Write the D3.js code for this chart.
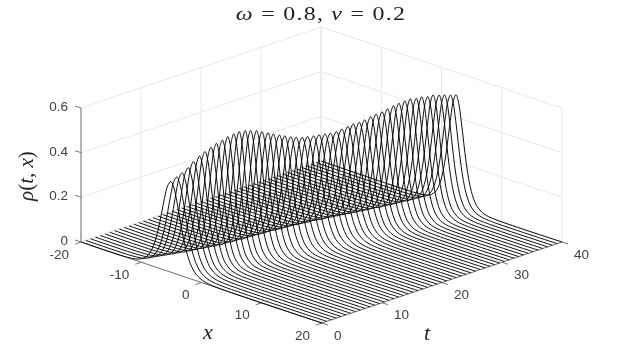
<!DOCTYPE html>
<html>
<head>
<meta charset="utf-8">
<script src="https://cdn.jsdelivr.net/npm/d3@7"></script>
<style>
	html, body { margin: 0; padding: 0; background: #fff; }
	svg { display: block; filter: blur(0.3px); }
</style>
</head>
<body>
<script>
var xTicks = [-20, -10, 0, 10, 20];
var tTicks = [0, 10, 20, 30, 40];
var zTicks = [0, 0.2, 0.4, 0.6];
var zLabels = ["0", "0.2", "0.4", "0.6"];

// one curve per time value
var tValues = [0, 0.8, 1.6, 2.4, 3.2, 4, 4.8, 5.6, 6.4, 7.2, 8, 8.8, 9.6, 10.4, 11.2, 12, 12.8, 13.6, 14.4, 15.2,
	16, 16.8, 17.6, 18.4, 19.2, 20, 20.8, 21.6, 22.4, 23.2, 24, 24.8, 25.6, 26.4, 27.2, 28, 28.8, 29.6, 30.4, 31.2,
	32, 32.8, 33.6, 34.4, 35.2, 36, 36.8, 37.6, 38.4, 39.2, 40];
// where the ridge crest sits on each curve
var crestX = [-5.1, -4.9, -4.8, -4.6, -4.5, -4.3, -4.2, -4, -3.9, -3.7, -3.6, -3.4, -3.3, -3.1, -3, -2.8, -2.7, -2.5, -2.4, -2.2,
	-2.1, -1.9, -1.8, -1.6, -1.5, -1.3, -1.2, -1, -0.9, -0.7, -0.6, -0.4, -0.3, -0.1, 0, 0.2, 0.3, 0.5, 0.6, 0.8,
	0.9, 1.1, 1.2, 1.4, 1.5, 1.7, 1.8, 2, 2.1, 2.3, 2.4];
var crestRho = [0.406, 0.421, 0.433, 0.451, 0.472, 0.491, 0.505, 0.519, 0.53, 0.539, 0.548, 0.555, 0.559, 0.558, 0.552, 0.546, 0.535, 0.525, 0.513, 0.503,
	0.493, 0.483, 0.475, 0.469, 0.466, 0.463, 0.462, 0.46, 0.457, 0.459, 0.464, 0.47, 0.476, 0.477, 0.482, 0.491, 0.496, 0.501, 0.508, 0.516,
	0.521, 0.526, 0.529, 0.526, 0.526, 0.522, 0.523, 0.517, 0.511, 0.505, 0.5];
var crestWidth = [2.1, 2, 1.95, 1.9, 1.8, 1.75, 1.7, 1.65, 1.6, 1.6, 1.55, 1.55, 1.5, 1.5, 1.55, 1.55, 1.6, 1.6, 1.65, 1.7,
	1.7, 1.75, 1.8, 1.8, 1.8, 1.85, 1.85, 1.85, 1.85, 1.85, 1.85, 1.8, 1.8, 1.8, 1.75, 1.75, 1.7, 1.7, 1.65, 1.65,
	1.65, 1.6, 1.6, 1.6, 1.6, 1.65, 1.6, 1.65, 1.65, 1.7, 1.7];
// shape of the ridge across x, relative to crest and width
var shapeOffset = [-4, -3, -2.5, -2, -1.75, -1.5, -1.25, -1, -0.75, -0.5, -0.25, 0, 0.25, 0.5, 0.75, 1, 1.25, 1.5, 1.75, 2, 2.5, 3, 4];
var shapeValue = [0, 0.01, 0.027, 0.07, 0.114, 0.18, 0.28, 0.42, 0.6, 0.79, 0.94, 1, 0.94, 0.79, 0.6, 0.42, 0.28, 0.18, 0.114, 0.07, 0.027, 0.01, 0];

var xToPx = d3.scaleLinear().domain([-20, 20]).range([0, 241]);
var xToPy = d3.scaleLinear().domain([-20, 20]).range([0, 81]);
var tToPx = d3.scaleLinear().domain([0, 40]).range([0, 240]);
var tToPy = d3.scaleLinear().domain([0, 40]).range([0, -81]);
var zToPy = d3.scaleLinear().domain([0, 0.6]).range([0, -134]);

function project(x, t, z){
	return [81 + xToPx(x) + tToPx(t), 242 + xToPy(x) + tToPy(t) + zToPy(z)];
}

var svg = d3.select("body").append("svg")
	.attr("width", 621)
	.attr("height", 363);

function seg(p, q, color, w){
	svg.append("line")
		.attr("x1", p[0]).attr("y1", p[1])
		.attr("x2", q[0]).attr("y2", q[1])
		.attr("stroke", color)
		.attr("stroke-width", w);
}

// back walls and floor grid
var gridColor = "#e2e2e2";
xTicks.forEach(function(x){
	seg(project(x, 0, 0), project(x, 40, 0), gridColor, 0.8);
	seg(project(x, 40, 0), project(x, 40, 0.6), gridColor, 0.8);
});
tTicks.forEach(function(t){
	seg(project(20, t, 0), project(-20, t, 0), gridColor, 0.8);
	seg(project(-20, t, 0), project(-20, t, 0.6), gridColor, 0.8);
});
zTicks.forEach(function(z){
	seg(project(-20, 0, z), project(-20, 40, z), gridColor, 0.8);
	seg(project(-20, 40, z), project(20, 40, z), gridColor, 0.8);
});

// axes
var axisColor = "#666";
seg(project(-20, 0, 0), project(-20, 0, 0.6), axisColor, 0.9);
seg(project(-20, 0, 0), project(20, 0, 0), axisColor, 0.9);
seg(project(20, 0, 0), project(20, 40, 0), axisColor, 0.9);

var tickFont = "'Liberation Sans', Arial, sans-serif";
function tickLabel(p, s, anchor){
	svg.append("text")
		.attr("x", p[0]).attr("y", p[1])
		.attr("text-anchor", anchor)
		.attr("dominant-baseline", "central")
		.attr("font-family", tickFont)
		.attr("font-size", 13.5)
		.attr("fill", "#404040")
		.text(s);
}

xTicks.forEach(function(x){
	var p = project(x, 0, 0);
	seg(p, [p[0] - 6, p[1] + 2], axisColor, 0.9);
	tickLabel([p[0] - 12, p[1] + 12], x, "end");
});
tTicks.forEach(function(t){
	var p = project(20, t, 0);
	seg(p, [p[0] + 6, p[1] + 2], axisColor, 0.9);
	tickLabel([p[0] + 12, p[1] + 12], t, "start");
});
zTicks.forEach(function(z, i){
	var p = project(-20, 0, z);
	seg(p, [p[0] - 6, p[1] - 2], axisColor, 0.9);
	tickLabel([p[0] - 13, p[1] - 1.5], zLabels[i], "end");
});

// the curves
var line = d3.line()
	.x(function(d){return d[0];})
	.y(function(d){return d[1];})
	.curve(d3.curveCatmullRom);

svg.selectAll("path.curve")
	.data(tValues)
	.enter()
	.append("path")
	.attr("class", "curve")
	.attr("fill", "none")
	.attr("stroke", "#000")
	.attr("stroke-width", 0.95)
	.attr("d", function(t, i){
		var pts = [project(-20, t, 0)];
		shapeOffset.forEach(function(u, j){
			pts.push(project(crestX[i] + u * crestWidth[i], t, crestRho[i] * shapeValue[j]));
		});
		pts.push(project(20, t, 0));
		return line(pts);
	});

// title and axis names
var mathFont = "'Liberation Serif', 'DejaVu Serif', serif";
var title = svg.append("text")
	.attr("transform", "translate(321,20) scale(1.33,1)")
	.attr("text-anchor", "middle")
	.attr("font-family", mathFont)
	.attr("font-size", 18)
	.attr("fill", "#222")
	.attr("letter-spacing", 0.95);
title.append("tspan").attr("font-style", "italic").text("ω");
title.append("tspan").text(" = 0.8, ");
title.append("tspan").attr("font-style", "italic").text("v");
title.append("tspan").text(" = 0.2");

svg.append("text")
	.attr("x", 208).attr("y", 339)
	.attr("text-anchor", "middle")
	.attr("font-family", mathFont)
	.attr("font-style", "italic")
	.attr("font-size", 22)
	.attr("fill", "#222")
	.text("x");
svg.append("text")
	.attr("x", 427).attr("y", 340)
	.attr("text-anchor", "middle")
	.attr("font-family", mathFont)
	.attr("font-style", "italic")
	.attr("font-size", 22)
	.attr("fill", "#222")
	.text("t");

var ylab = svg.append("text")
	.attr("transform", "translate(33,176) rotate(-90)")
	.attr("text-anchor", "middle")
	.attr("font-family", mathFont)
	.attr("font-size", 21)
	.attr("fill", "#222");
ylab.append("tspan").attr("font-style", "italic").text("ρ");
ylab.append("tspan").text("(");
ylab.append("tspan").attr("font-style", "italic").text("t");
ylab.append("tspan").text(", ");
ylab.append("tspan").attr("font-style", "italic").text("x");
ylab.append("tspan").text(")");
</script>
</body>
</html>
